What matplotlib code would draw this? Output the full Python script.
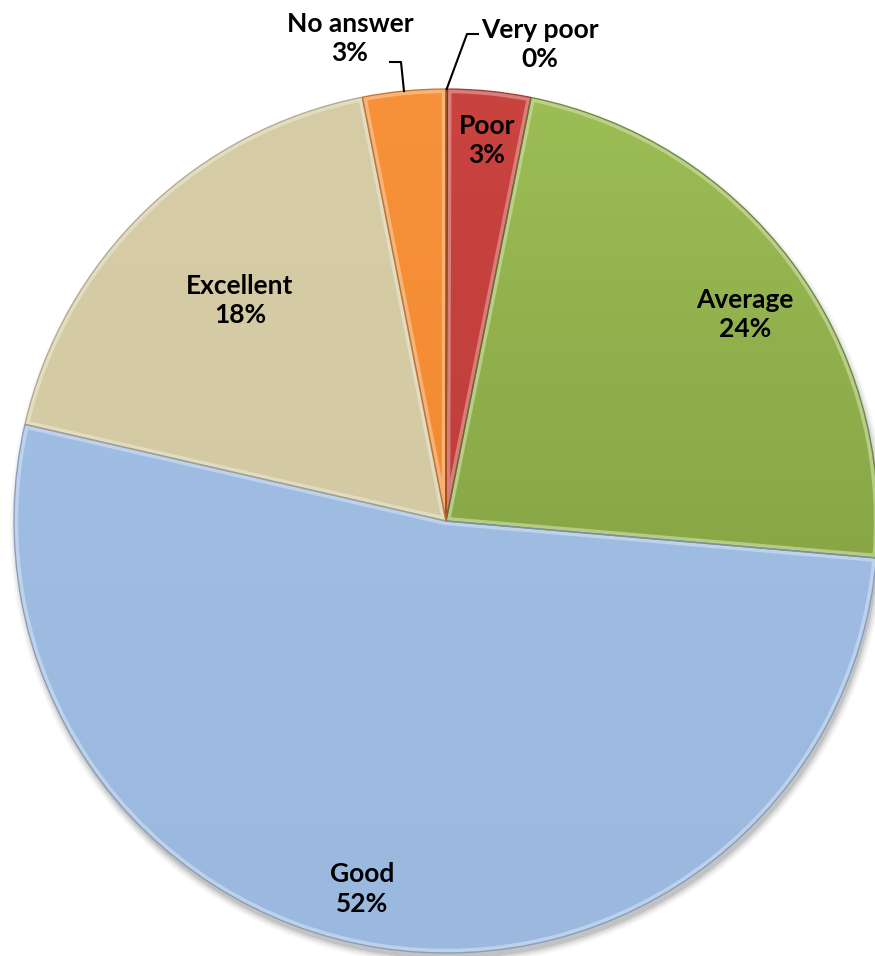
import numpy as np
import matplotlib
matplotlib.use("Agg")
import matplotlib.pyplot as plt
from matplotlib.colors import to_rgb
from matplotlib.patches import Circle, PathPatch

# ---- data ----
categories = ["Very poor", "Poor", "Average", "Good", "Excellent", "No answer"]
shares = [0.05, 3.1, 23.2, 52.2, 18.3, 3.1]
pct_labels = ["0%", "3%", "24%", "52%", "18%", "3%"]

# ---- style ----
top_colors = ["#5A2A22", "#C9433F", "#9DBD55", "#A2C0E6", "#D6CDA6", "#F7923A"]
bot_colors = ["#5A2A22", "#B83A37", "#76933A", "#9BB9DF", "#D1C7A0", "#EE8228"]

W, H = 875, 956
fig = plt.figure(figsize=(8.75, 9.56), dpi=100)
ax = fig.add_axes([0, 0, 1, 1])

cx, cy, R = 446, H - 521, 432

# soft shadow
for dr, a in [(6, 0.03), (4, 0.05), (2, 0.07), (0, 0.10)]:
    ax.add_patch(Circle((cx + 2, cy - 6), R + dr, facecolor="black",
                        alpha=a, lw=0, zorder=0))

wedges, _ = ax.pie(shares, startangle=90, counterclock=False,
                   center=(cx, cy), radius=R, colors=top_colors,
                   wedgeprops=dict(linewidth=0), frame=True)

for w, tc, bc in zip(wedges, top_colors, bot_colors):
    w.set_zorder(1)
    t = np.array(to_rgb(tc)); b = np.array(to_rgb(bc))
    grad = np.linspace(0, 1, 256)[:, None, None]
    img = t * (1 - grad) + b * grad
    im = ax.imshow(img, extent=(cx - R, cx + R, cy - R, cy + R),
                   origin="upper", aspect="auto", zorder=2)
    im.set_clip_path(w)
    # bevel highlight inside edges
    light = t + (1 - t) * 0.45
    hp = PathPatch(w.get_path(), transform=w.get_transform(), facecolor="none",
                   edgecolor=light, lw=6, alpha=0.7, zorder=3)
    ax.add_patch(hp)
    hp.set_clip_path(w)
    dark = b * 0.8
    ep = PathPatch(w.get_path(), transform=w.get_transform(), facecolor="none",
                   edgecolor=dark, lw=1.0, alpha=0.8, zorder=4)
    ax.add_patch(ep)

ax.set_xlim(0, W)
ax.set_ylim(0, H)
ax.set_aspect("equal")
ax.axis("off")

# label layout (pixel positions of text centres)
label_pos = {
    "Very poor": (540, 44),
    "Poor": (487, 140),
    "Average": (745, 314),
    "Good": (362, 889),
    "Excellent": (240, 300),
    "No answer": (350, 38),
}
font = dict(family=["Lato", "DejaVu Sans"], fontweight="bold", fontsize=19,
            color="black", ha="center", va="center", linespacing=1.25, zorder=6)
for cat, pct in zip(categories, pct_labels):
    x, y = label_pos[cat]
    ax.text(x, H - y, f"{cat}\n{pct}", **font)

# leader lines for outside labels
theta = np.cumsum([0] + shares)
total = sum(shares)
def edge_point(frac):
    ang = np.deg2rad(90 - 360 * frac)
    return cx + R * np.cos(ang), cy + R * np.sin(ang)

i_vp = categories.index("Very poor")
px, py = edge_point((theta[i_vp] + shares[i_vp] / 2) / total)
ax.plot([px, 467, 478], [py, H - 34, H - 34], color="black", lw=1.5, zorder=6)
i_na = categories.index("No answer")
px, py = edge_point((theta[i_na] + shares[i_na] / 2) / total)
ax.plot([px, 401, 390], [py, H - 62, H - 62], color="black", lw=1.5, zorder=6)

fig.savefig("out.png", dpi=100)
